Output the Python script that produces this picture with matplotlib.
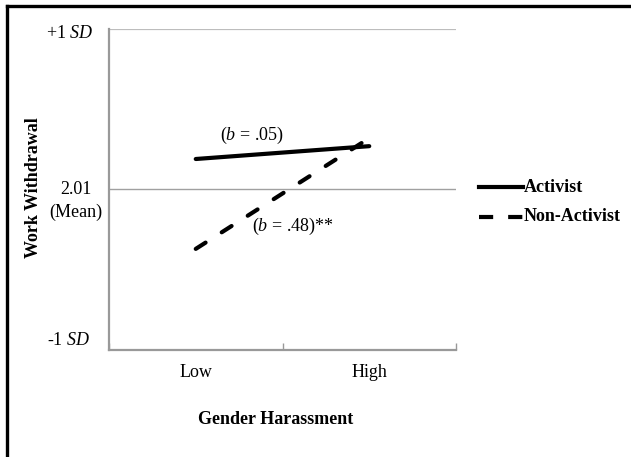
import matplotlib.pyplot as plt
from matplotlib.lines import Line2D

# data (y in SD units around the mean of 2.01)
levels = ["Low", "High"]
activist = [0.19, 0.27]
non_activist = [-0.37, 0.32]
x_pos = [0.5, 1.5]

plt.rcParams["font.family"] = ["Liberation Serif", "DejaVu Serif"]
plt.rcParams["mathtext.fontset"] = "custom"
plt.rcParams["mathtext.rm"] = "Liberation Serif"
plt.rcParams["mathtext.it"] = "Liberation Serif:italic"

fig = plt.figure(figsize=(6.31, 4.57), dpi=100)
ax = fig.add_axes([109 / 631, 1 - 350 / 457, 347 / 631, 321 / 457])

ax.set_xlim(0, 2)
ax.set_ylim(-1, 1)

# gridlines at +1 SD and mean
ax.axhline(1, color="#bdbdbd", lw=1.6, zorder=1)
ax.axhline(0, color="#a0a0a0", lw=1.0, zorder=1)

ax.plot(x_pos, activist, color="black", lw=3.0, solid_capstyle="round",
        label="Activist", zorder=3)
ax.plot(x_pos, non_activist, color="black", lw=3.0, dash_capstyle="round",
        linestyle=(0, (2.8, 4.6)), label="Non-Activist", zorder=3)

for side in ["top", "right"]:
    ax.spines[side].set_visible(False)
ax.spines["left"].set_color("#999999")
ax.spines["left"].set_linewidth(1.6)
ax.spines["bottom"].set_color("#999999")
ax.spines["bottom"].set_linewidth(1.6)

ax.set_yticks([])
ax.set_xticks([0, 1, 2])
ax.set_xticklabels([])
ax.tick_params(axis="x", direction="in", length=5, width=1, color="#999999")
for xp, lab in zip(x_pos, levels):
    ax.text(xp, -1.14, lab, ha="center", va="center", fontsize=13)

# y labels
ax.text(-0.09, 0.975, "+1 $\\mathit{SD}$", ha="right", va="center", fontsize=13)
ax.text(-0.19, 0.0, "2.01", ha="center", va="center", fontsize=13)
ax.text(-0.19, -0.145, "(Mean)", ha="center", va="center", fontsize=13)
ax.text(-0.11, -0.94, "-1 $\\mathit{SD}$", ha="right", va="center", fontsize=13)

# slope annotations
ax.text(0.825, 0.335, "($\\mathit{b}$ = .05)", ha="center", va="center", fontsize=13)
ax.text(1.06, -0.23, "($\\mathit{b}$ = .48)**", ha="center", va="center", fontsize=13)

fig.text(34 / 631, 1 - 188 / 457, "Work Withdrawal", rotation=90, ha="center",
         va="center", fontsize=13, fontweight="bold")
fig.text(276 / 631, 1 - 419 / 457, "Gender Harassment", ha="center",
         va="center", fontsize=13, fontweight="bold")

# legend drawn in figure coords
fig.add_artist(Line2D([479 / 631, 523 / 631], [1 - 187 / 457] * 2, color="black",
                      lw=3.0, transform=fig.transFigure))
fig.add_artist(Line2D([479 / 631, 523 / 631], [1 - 217 / 457] * 2, color="black",
                      lw=3.0, linestyle=(0, (3.4, 3.6)),
                      transform=fig.transFigure))
fig.text(524 / 631, 1 - 187 / 457, "Activist", ha="left", va="center",
         fontsize=13, fontweight="bold")
fig.text(524 / 631, 1 - 217 / 457, "Non-Activist", ha="left", va="center",
         fontsize=13, fontweight="bold")

# partial frame (left and top edges only)
fig.add_artist(Line2D([7 / 631, 7 / 631], [0, 1 - 6 / 457], color="black", lw=2.4,
                      transform=fig.transFigure, solid_capstyle="projecting"))
fig.add_artist(Line2D([7 / 631, 1], [1 - 6 / 457] * 2, color="black", lw=2.4,
                      transform=fig.transFigure, solid_capstyle="projecting"))

fig.savefig("out.png", dpi=100)
